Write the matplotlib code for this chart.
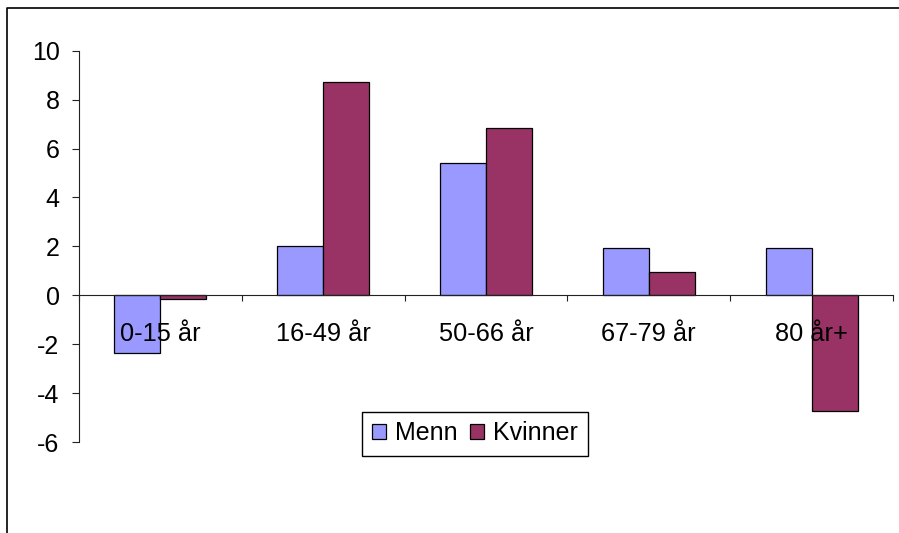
import matplotlib
matplotlib.use('Agg')
import matplotlib.pyplot as plt
from matplotlib.lines import Line2D
import numpy as np

plt.rcParams['font.family'] = ['Liberation Sans', 'DejaVu Sans']
plt.rcParams['axes.unicode_minus'] = False

groups = ['0-15 år', '16-49 år', '50-66 år', '67-79 år', '80 år+']
menn = [-2.35, 2.0, 5.4, 1.95, 1.95]
kvinner = [-0.15, 8.7, 6.85, 0.95, -4.75]
yticks = [-6, -4, -2, 0, 2, 4, 6, 8, 10]

W, H = 899, 533
fig = plt.figure(figsize=(W / 100, H / 100), dpi=100)
ax = fig.add_axes([79 / W, 91 / H, (893 - 79) / W, (482.3 - 91) / H])

x = np.arange(len(groups))
w = 0.283
ax.bar(x - w / 2, menn, w, color='#9999FF', edgecolor='black', linewidth=0.9, label='Menn')
ax.bar(x + w / 2, kvinner, w, color='#993366', edgecolor='black', linewidth=0.9, label='Kvinner')

ax.set_xlim(-0.5, len(groups) - 0.5)
ax.set_ylim(-6, 10)

for s in ['top', 'right']:
    ax.spines[s].set_visible(False)
ax.spines['bottom'].set_position(('data', 0))
ax.spines['bottom'].set_color('#222222')
ax.spines['left'].set_color('#222222')

ax.set_yticks(yticks)
ax.set_yticklabels([str(v) for v in yticks])
ax.tick_params(axis='y', direction='out', length=5, pad=9, labelsize=18, color='#222222')

# group boundaries as major ticks, labels on minor ticks at centers
ax.set_xticks(np.arange(len(groups) + 1) - 0.5)
ax.set_xticklabels([''] * (len(groups) + 1))
ax.set_xticks(x, minor=True)
ax.set_xticklabels(groups, minor=True)
ax.tick_params(axis='x', which='major', direction='out', length=4.3, color='#222222')
ax.tick_params(axis='x', which='minor', length=0, pad=19, labelsize=18.3)

ax.legend(loc='center', bbox_to_anchor=(475 / W, 1 - 433.5 / H), bbox_transform=fig.transFigure,
          ncol=2, fontsize=18, frameon=True, fancybox=False, edgecolor='black',
          framealpha=1, handlelength=0.55, handleheight=0.55, handletextpad=0.35,
          columnspacing=0.5, borderpad=0.4, borderaxespad=0)

# chart area border (top and left visible)
fig.add_artist(Line2D([7 / W, 7 / W, 1], [0, 1 - 8 / H, 1 - 8 / H],
                      transform=fig.transFigure, color='black', linewidth=1.2))

fig.savefig('out.png', dpi=100)
